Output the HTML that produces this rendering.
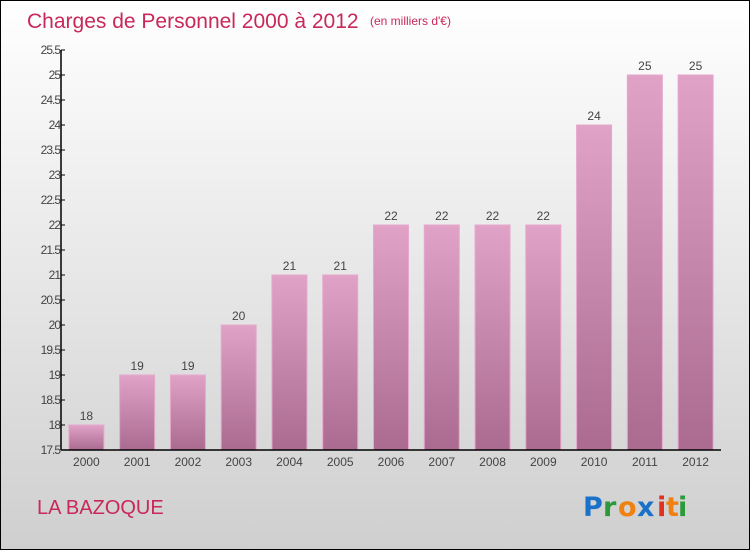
<!DOCTYPE html>
<html><head><meta charset="utf-8"><style>
html,body{margin:0;padding:0}
body{width:750px;height:550px;overflow:hidden;font-family:"Liberation Sans",sans-serif}
#wrap{position:relative;width:748px;height:548px;border:1px solid #000;background:linear-gradient(#ffffff,#cfcfcf)}
</style></head><body>
<div id="wrap">
<svg id="chart" width="748" height="548">
<defs><linearGradient id="bg" x1="0" y1="0" x2="0" y2="1"><stop offset="0" stop-color="#e0a2c6"/><stop offset="1" stop-color="#ab6b91"/></linearGradient></defs>
<text x="26" y="27" font-size="21" fill="#c8285a">Charges de Personnel 2000 à 2012</text>
<text x="369" y="24" font-size="12" fill="#c8285a">(en milliers d'€)</text>
<text x="36" y="513" font-size="20" fill="#c8285a">LA BAZOQUE</text>
<g font-size="27" font-weight="bold" font-family="'DejaVu Sans',sans-serif">
<text x="582" y="515" fill="#1a72c8">P</text><text x="602" y="515" fill="#2a9a3a">r</text><text x="617" y="515" fill="#f08010">o</text><text x="636" y="515" fill="#1a72c8">x</text><text x="656" y="515" fill="#e03020">i</text><text x="665" y="515" fill="#f08010">t</text><text x="677" y="515" fill="#2a9a3a">i</text></g>
</svg>
</div>
<script>
const categories=["2000","2001","2002","2003","2004","2005","2006","2007","2008","2009","2010","2011","2012"];
const values=[18,19,19,20,21,21,22,22,22,22,24,25,25];
const yTicks=[17.5,18,18.5,19,19.5,20,20.5,21,21.5,22,22.5,23,23.5,24,24.5,25,25.5];
const svg=document.getElementById('chart');const NS='http://www.w3.org/2000/svg';
const x0=60,x1=720,yTop=49,yBot=449,vMin=17.5,vMax=25.5;
const y=v=>yBot-(v-vMin)/(vMax-vMin)*(yBot-yTop);
const bw=(x1-x0)/categories.length;
const xc=i=>x0+bw*(i+0.5);
function mk(t,a){const e=document.createElementNS(NS,t);for(const k in a)e.setAttribute(k,a[k]);svg.appendChild(e);return e;}
values.forEach((v,i)=>{
 const r=mk('rect',{x:xc(i)-17.5,y:y(v),width:35,height:yBot-y(v),fill:'url(#bg)',stroke:'#e6a8cc','stroke-width':1});
 
 
 const t=mk('text',{x:xc(i),y:y(v)-5,'font-size':12,fill:'#444','text-anchor':'middle'});t.textContent=v;
 
 
 const c=mk('text',{x:xc(i),y:yBot+16,'font-size':12,fill:'#444','text-anchor':'middle'});c.textContent=categories[i];
 
 
});
const ya=mk('line',{x1:x0,y1:yTop,x2:x0,y2:yBot,stroke:'#000','stroke-width':1.5});


const xa=mk('line',{x1:x0,y1:yBot,x2:x1,y2:yBot,stroke:'#000','stroke-width':1.5});


yTicks.forEach(v=>{
 mk('line',{x1:x0,y1:y(v),x2:x0+4,y2:y(v),stroke:'#000'});
 const t=mk('text',{x:x0-1,y:y(v)+4,'font-size':12,fill:'#444','text-anchor':'end','letter-spacing':'-1'});t.textContent=v;
 
 
});
</script>
</body></html>
